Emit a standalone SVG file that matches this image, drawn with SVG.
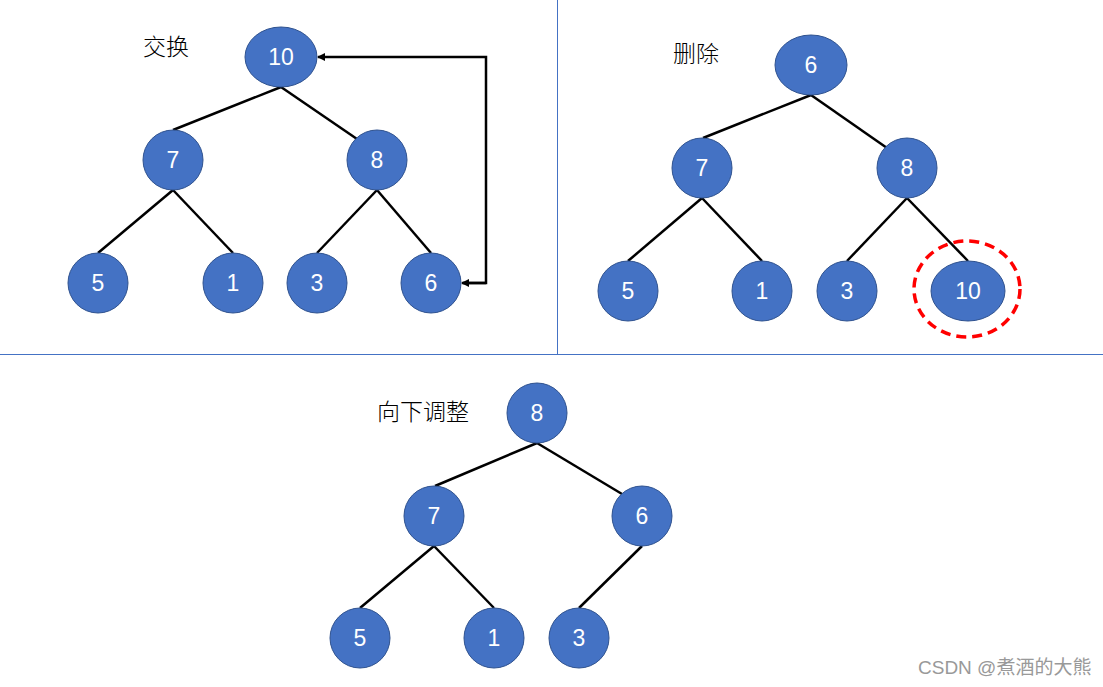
<svg xmlns="http://www.w3.org/2000/svg" width="1103" height="687" viewBox="0 0 1103 687">
<style>
.n{fill:#4472C4;stroke:#2F528F;stroke-width:1}
.t{fill:#fff;font-family:"Liberation Sans",Arial,sans-serif;font-size:23px;text-anchor:middle;dominant-baseline:central}
.e{stroke:#000;stroke-width:2.5;fill:none}
.lb{font-family:"Noto Sans CJK SC",sans-serif;font-size:23px;font-weight:300;fill:#000}
.div{stroke:#4472C4;stroke-width:1}
</style>
<defs>
<marker id="ah" markerWidth="8" markerHeight="8" refX="7" refY="4" orient="auto" markerUnits="userSpaceOnUse" viewBox="0 0 8 8">
<path d="M0,0 L8,4 L0,8 Z" fill="#000"/>
</marker>
</defs>
<rect width="1103" height="687" fill="#fff"/>
<g id="dividers">
<line class="div" x1="557.5" y1="0" x2="557.5" y2="354"/>
<line class="div" x1="0" y1="354.5" x2="1103" y2="354.5"/>
</g>
<g id="connectors">
<line class="e" x1="281" y1="87" x2="173" y2="130"/>
<line class="e" x1="281" y1="87" x2="357" y2="139"/>
<line class="e" x1="173" y1="190" x2="98" y2="253"/>
<line class="e" x1="173" y1="190" x2="233" y2="253"/>
<line class="e" x1="377" y1="190" x2="317" y2="253"/>
<line class="e" x1="377" y1="190" x2="431" y2="253"/>
<path class="e" d="M463,283 H486 V57 H318" marker-end="url(#ah)"/>
<path class="e" d="M486,283 H462" marker-end="url(#ah)"/>
<line class="e" x1="811" y1="95" x2="703" y2="138"/>
<line class="e" x1="811" y1="95" x2="887" y2="148"/>
<line class="e" x1="702" y1="198" x2="628" y2="261"/>
<line class="e" x1="702" y1="198" x2="762" y2="261"/>
<line class="e" x1="907" y1="198" x2="847" y2="261"/>
<line class="e" x1="907" y1="198" x2="968" y2="261"/>
<line class="e" x1="537" y1="443" x2="435" y2="486"/>
<line class="e" x1="537" y1="443" x2="622" y2="494"/>
<line class="e" x1="434" y1="546" x2="360" y2="608"/>
<line class="e" x1="434" y1="546" x2="494" y2="608"/>
<line class="e" x1="642" y1="546" x2="579" y2="608"/>
</g>
<g id="labels">
<text class="lb" x="143" y="55">交换</text>
<text class="lb" x="673" y="62">删除</text>
<text class="lb" x="377" y="420">向下调整</text>
</g>
<g id="p1-10"><ellipse class="n" cx="281" cy="57" rx="36" ry="30"/><text class="t" x="281" y="57">10</text></g>
<g id="p1-7"><circle class="n" cx="173" cy="160" r="30"/><text class="t" x="173" y="160">7</text></g>
<g id="p1-8"><circle class="n" cx="377" cy="160" r="30"/><text class="t" x="377" y="160">8</text></g>
<g id="p1-5"><circle class="n" cx="98" cy="283" r="30"/><text class="t" x="98" y="283">5</text></g>
<g id="p1-1"><circle class="n" cx="233" cy="283" r="30"/><text class="t" x="233" y="283">1</text></g>
<g id="p1-3"><circle class="n" cx="317" cy="283" r="30"/><text class="t" x="317" y="283">3</text></g>
<g id="p1-6"><circle class="n" cx="431" cy="283" r="30"/><text class="t" x="431" y="283">6</text></g>
<g id="p2-6"><ellipse class="n" cx="811" cy="65" rx="36" ry="30"/><text class="t" x="811" y="65">6</text></g>
<g id="p2-7"><circle class="n" cx="702" cy="168" r="30"/><text class="t" x="702" y="168">7</text></g>
<g id="p2-8"><circle class="n" cx="907" cy="168" r="30"/><text class="t" x="907" y="168">8</text></g>
<g id="p2-5"><circle class="n" cx="628" cy="291" r="30"/><text class="t" x="628" y="291">5</text></g>
<g id="p2-1"><circle class="n" cx="762" cy="291" r="30"/><text class="t" x="762" y="291">1</text></g>
<g id="p2-3"><circle class="n" cx="847" cy="291" r="30"/><text class="t" x="847" y="291">3</text></g>
<g id="p2-10"><ellipse class="n" cx="968" cy="291" rx="37" ry="30"/><text class="t" x="968" y="291">10</text>
<ellipse cx="967" cy="289" rx="53" ry="48" fill="none" stroke="#FF0000" stroke-width="3.5" stroke-dasharray="10,6"/></g>
<g id="p3-8"><circle class="n" cx="537" cy="413" r="30"/><text class="t" x="537" y="413">8</text></g>
<g id="p3-7"><circle class="n" cx="434" cy="516" r="30"/><text class="t" x="434" y="516">7</text></g>
<g id="p3-6"><circle class="n" cx="642" cy="516" r="30"/><text class="t" x="642" y="516">6</text></g>
<g id="p3-5"><circle class="n" cx="360" cy="638" r="30"/><text class="t" x="360" y="638">5</text></g>
<g id="p3-1"><circle class="n" cx="494" cy="638" r="30"/><text class="t" x="494" y="638">1</text></g>
<g id="p3-3"><circle class="n" cx="579" cy="638" r="30"/><text class="t" x="579" y="638">3</text></g>
<text x="918" y="674" font-family="'Liberation Sans','Noto Sans CJK SC',sans-serif" font-size="19" fill="#999">CSDN @煮酒的大熊</text>
</svg>
